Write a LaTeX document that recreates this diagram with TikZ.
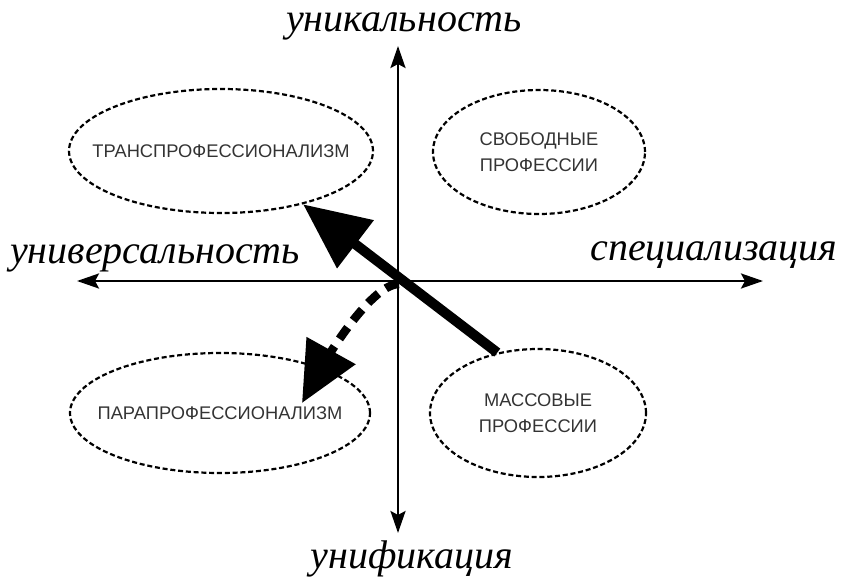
\documentclass[tikz,border=0pt]{standalone}
\usepackage{fontspec}
\setmainfont{Liberation Serif}
\setsansfont{Liberation Sans}
\usetikzlibrary{arrows.meta,shapes.geometric}
\begin{document}
\begin{tikzpicture}[x=1pt,y=-1pt,
  axis/.style={line width=2.6pt,
    {Stealth[length=22pt,width=15pt,inset=4pt]}-{Stealth[length=22pt,width=15pt,inset=4pt]}},
  area/.style={draw,ellipse,line width=2.2pt,dash pattern=on 5pt off 2.8pt,inner sep=0pt},
  areatext/.style={font=\sffamily\fontsize{18.3}{26}\selectfont,text=black!80,align=center},
  axislabel/.style={font=\fontsize{40}{44}\selectfont\itshape,anchor=base,inner sep=0pt},
  bigarrow/.style={line width=10pt,-{Triangle[length=66pt,width=58pt]}},
  dasharrow/.style={line width=8.5pt,dash pattern=on 14pt off 9pt,-{Triangle[length=60pt,width=54pt]}}]
\useasboundingbox (0,0) rectangle (847,586);
% axes
\coordinate (o) at (398,281);
\coordinate (top) at (398,46);
\coordinate (bot) at (398,533);
\coordinate (left) at (77,281);
\coordinate (right) at (763,281);
\draw[axis] (bot) -- (top);
\draw[axis] (left) -- (right);
% axis labels
\node[axislabel] (lt) at (404,32) {уникальность};
\node[axislabel] (lb) at (412,568) {унификация};
\node[axislabel] (ll) at (155,263) {универсальность};
\node[axislabel] (lr) at (714,260) {специализация};
% ellipses
\node[area,minimum width=304pt,minimum height=124pt] (tl) at (221,151) {};
\node[area,minimum width=212pt,minimum height=124pt] (tr) at (539,152) {};
\node[area,minimum width=300pt,minimum height=120pt] (bl) at (220,413) {};
\node[area,minimum width=216pt,minimum height=128pt] (br) at (538,413) {};
\node[areatext] (tlt) at (tl) {ТРАНСПРОФЕССИОНАЛИЗМ};
\node[areatext] (trt) at (tr) {СВОБОДНЫЕ\\ПРОФЕССИИ};
\node[areatext] (blt) at (bl) {ПАРАПРОФЕССИОНАЛИЗМ};
\node[areatext] (brt) at (br) {МАССОВЫЕ\\ПРОФЕССИИ};
% arrows
\draw[bigarrow] (br.124) -- (tl.-33);
\coordinate (dstart) at (399,284);
\coordinate (dend) at (302,403);
\draw[dasharrow] (dstart) .. controls (368,284) and (317,376) .. (dend);
\end{tikzpicture}
\end{document}
